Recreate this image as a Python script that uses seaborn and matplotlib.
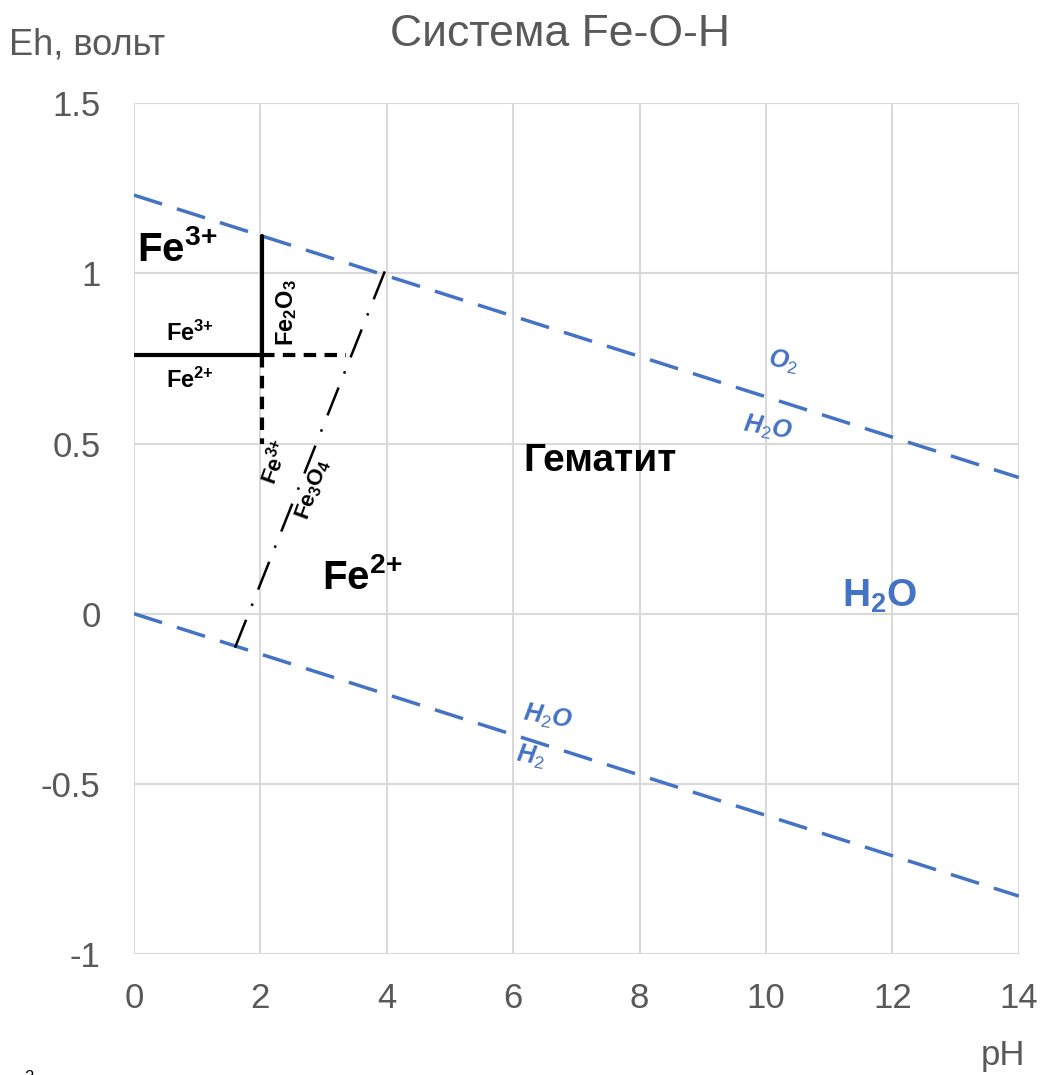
import matplotlib
matplotlib.use("Agg")
import matplotlib.pyplot as plt
import seaborn as sns
import pandas as pd

# ---- data ----
o2_ph = [0, 14]
o2_eh = [1.23, 0.40]
h2_ph = [0, 14]
h2_eh = [0.0, -0.83]
fe32_ph = [0, 2.03]
fe32_eh = [0.76, 0.76]
hem_vert_ph = [2.03, 2.03]
hem_vert_eh = [0.76, 1.11]
dot_h_ph = [2.03, 3.35]
dot_h_eh = [0.76, 0.76]
dot_v_ph = [2.03, 2.03]
dot_v_eh = [0.76, 0.50]
mag_ph = [1.6, 4.0]
mag_eh = [-0.10, 1.02]

x_ticks = [0, 2, 4, 6, 8, 10, 12, 14]
y_ticks = [-1, -0.5, 0, 0.5, 1, 1.5]
y_tick_labels = ["-1", "-0.5", "0", "0.5", "1", "1.5"]

sns.set_theme(style="white")
plt.rcParams['font.family'] = ['Liberation Sans', 'DejaVu Sans']
plt.rcParams['mathtext.fontset'] = 'custom'
plt.rcParams['mathtext.rm'] = 'Liberation Sans'
plt.rcParams['mathtext.bf'] = 'Liberation Sans:bold'
plt.rcParams['mathtext.it'] = 'Liberation Sans:italic:bold'

fig = plt.figure(figsize=(10.46, 10.75), dpi=100)
ax = fig.add_axes([0.128, 0.1126, 0.846, 0.7914])

blue = "#4472C4"
kw = dict(estimator=None, sort=False, ax=ax, legend=False)

sns.lineplot(x=o2_ph, y=o2_eh, color=blue, linewidth=2.5, linestyle=(0, (8.5, 4.5)), **kw)
sns.lineplot(x=h2_ph, y=h2_eh, color=blue, linewidth=2.5, linestyle=(0, (8.5, 4.5)), **kw)
sns.lineplot(x=fe32_ph, y=fe32_eh, color="black", linewidth=3, **kw)
sns.lineplot(x=hem_vert_ph, y=hem_vert_eh, color="black", linewidth=3, **kw)
sns.lineplot(x=dot_h_ph, y=dot_h_eh, color="black", linewidth=3, linestyle=(0, (3, 2)), **kw)
sns.lineplot(x=dot_v_ph, y=dot_v_eh, color="black", linewidth=3, linestyle=(0, (3, 2)), **kw)
sns.lineplot(x=mag_ph, y=mag_eh, color="black", linewidth=1.8, linestyle=(0, (12, 6, 1, 6)), **kw)

ax.set_xlim(0, 14)
ax.set_ylim(-1, 1.5)
ax.set_xticks(x_ticks)
ax.set_xticklabels([str(t) for t in x_ticks])
ax.set_yticks(y_ticks)
ax.set_yticklabels(y_tick_labels)
ax.grid(True, color="#d9d9d9", linewidth=1.5)
ax.set_axisbelow(True)
for s in ax.spines.values():
    s.set_visible(False)
ax.tick_params(axis='both', length=0, labelsize=25, labelcolor="#595959")
ax.tick_params(axis='x', pad=20)
ax.tick_params(axis='y', pad=24)
ax.set_xlabel("")
ax.set_ylabel("")

# labels
fig.text(0.5355, 0.968, "Система Fe-O-H", ha='center', va='center', fontsize=32, color="#595959")
fig.text(0.009, 0.958, "Eh, вольт", ha='left', va='center', fontsize=26, color="#595959")
fig.text(0.959, 0.018, "pH", ha='center', va='center', fontsize=25, color="#595959")
fig.text(0.028, -0.002, "2", ha='center', va='center', fontsize=12, color="black")

# annotations
ax.text(0.05, 1.07, r"$\mathbf{Fe^{3{+}}}$", fontsize=29, ha='left', va='center', color='black')
ax.text(0.89, 0.825, r"$\mathbf{Fe^{3{+}}}$", fontsize=17, ha='center', va='center', color='black')
ax.text(0.89, 0.686, r"$\mathbf{Fe^{2{+}}}$", fontsize=17, ha='center', va='center', color='black')
ax.text(2.41, 0.885, r"$\mathbf{Fe_2O_3}$", fontsize=17, ha='center', va='center', rotation=90, color='black')
ax.text(2.23, 0.445, r"$\mathbf{Fe^{3{+}}}$", fontsize=16, ha='center', va='center', rotation=70, color='black')
ax.text(2.84, 0.365, r"$\mathbf{Fe_3O_4}$", fontsize=16, ha='center', va='center', rotation=70, color='black')
ax.text(7.37, 0.45, "Гематит", fontsize=28, fontweight='bold', ha='center', va='center', color='black')
ax.text(3.61, 0.105, r"$\mathbf{Fe^{2{+}}}$", fontsize=29, ha='center', va='center', color='black')
ax.text(11.8, 0.05, r"$\mathbf{H_2O}$", fontsize=28, ha='center', va='center', color=blue)
ax.text(10.27, 0.74, r"$\mathit{O_2}$", fontsize=18, ha='center', va='center', rotation=-10, color=blue)
ax.text(10.03, 0.545, r"$\mathit{H_2O}$", fontsize=18, ha='center', va='center', rotation=-10, color=blue)
ax.text(6.55, -0.305, r"$\mathit{H_2O}$", fontsize=18, ha='center', va='center', rotation=-10, color=blue)
ax.text(6.27, -0.42, r"$\mathit{H_2}$", fontsize=18, ha='center', va='center', rotation=-10, color=blue)

fig.savefig("out.png", dpi=100)
